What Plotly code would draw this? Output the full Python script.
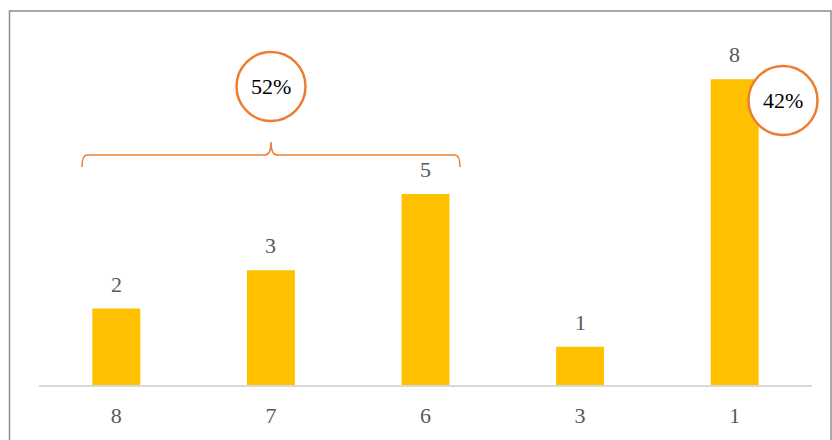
import plotly.graph_objects as go

# Data
categories = ["8", "7", "6", "3", "1"]
counts = [2, 3, 5, 1, 8]
share_labels = ["52%", "42%"]

BAR = "#FFC000"
ACCENT = "#ED7D31"
TEXT = "#595959"
FONT = "Liberation Serif"

W, H = 832, 440
ML, MR, MT, MB = 39, 20, 41, 55
PW, PH = W - ML - MR, H - MT - MB


def px(x):
    return (x - ML) / PW


def py(y):
    return (H - MB - y) / PH


fig = go.Figure(
    go.Bar(
        x=list(range(len(categories))),
        y=counts,
        marker=dict(color=BAR, line=dict(width=0)),
        width=0.31,
        hoverinfo="skip",
    )
)

annotations = []
# value labels above each bar
for i, v in enumerate(counts):
    annotations.append(dict(
        x=i, y=v, xref="x", yref="y", text=str(v), showarrow=False,
        yanchor="bottom", yshift=10,
        font=dict(family=FONT, size=22, color=TEXT),
    ))

shapes = []
# outer frame
shapes.append(dict(
    type="rect", xref="paper", yref="paper",
    x0=px(9.5), x1=px(831), y0=py(460), y1=py(11),
    line=dict(color="#8C8C8C", width=1.5), fillcolor="rgba(0,0,0,0)", layer="below",
))

# curly brace over the first three bars
brace = [
    ("M", 82, 167), ("Q", 82, 155, 87, 155), ("L", 265, 155),
    ("Q", 271, 155, 271, 142), ("Q", 271, 155, 277, 155), ("L", 455, 155),
    ("Q", 460, 155, 460, 167),
]
path = ""
for seg in brace:
    cmd, *pts = seg
    coords = " ".join(f"{px(pts[i]):.5f},{py(pts[i+1]):.5f}" for i in range(0, len(pts), 2))
    path += f"{cmd} {coords} "
shapes.append(dict(
    type="path", xref="paper", yref="paper", path=path.strip(),
    line=dict(color=ACCENT, width=1.5),
))

# circled share labels
for (cx, cy), lab in zip([(271, 86.5), (783, 100.5)], share_labels):
    r = 34.5
    shapes.append(dict(
        type="circle", xref="paper", yref="paper",
        x0=px(cx - r), x1=px(cx + r), y0=py(cy + r), y1=py(cy - r),
        line=dict(color=ACCENT, width=2.5), fillcolor="white", layer="above",
    ))
    annotations.append(dict(
        x=px(cx), y=py(cy), xref="paper", yref="paper", text=lab,
        showarrow=False, xanchor="center", yanchor="middle",
        font=dict(family=FONT, size=22, color="black"),
    ))

fig.update_layout(
    width=W, height=H,
    margin=dict(l=ML, r=MR, t=MT, b=MB, pad=0, autoexpand=False),
    paper_bgcolor="white", plot_bgcolor="white",
    showlegend=False,
    shapes=shapes, annotations=annotations,
    xaxis=dict(
        range=[-0.5, len(categories) - 0.5],
        tickmode="array", tickvals=list(range(len(categories))), ticktext=categories,
        showgrid=False, zeroline=False, automargin=False,
        showline=True, linecolor="#D9D9D9", linewidth=1.5,
        ticks="", ticklabelstandoff=10,
        tickfont=dict(family=FONT, size=22, color=TEXT),
        fixedrange=True,
    ),
    yaxis=dict(
        range=[0, 9], visible=False, showgrid=False, zeroline=False,
        automargin=False, fixedrange=True,
    ),
)

fig.write_html("out.html")
